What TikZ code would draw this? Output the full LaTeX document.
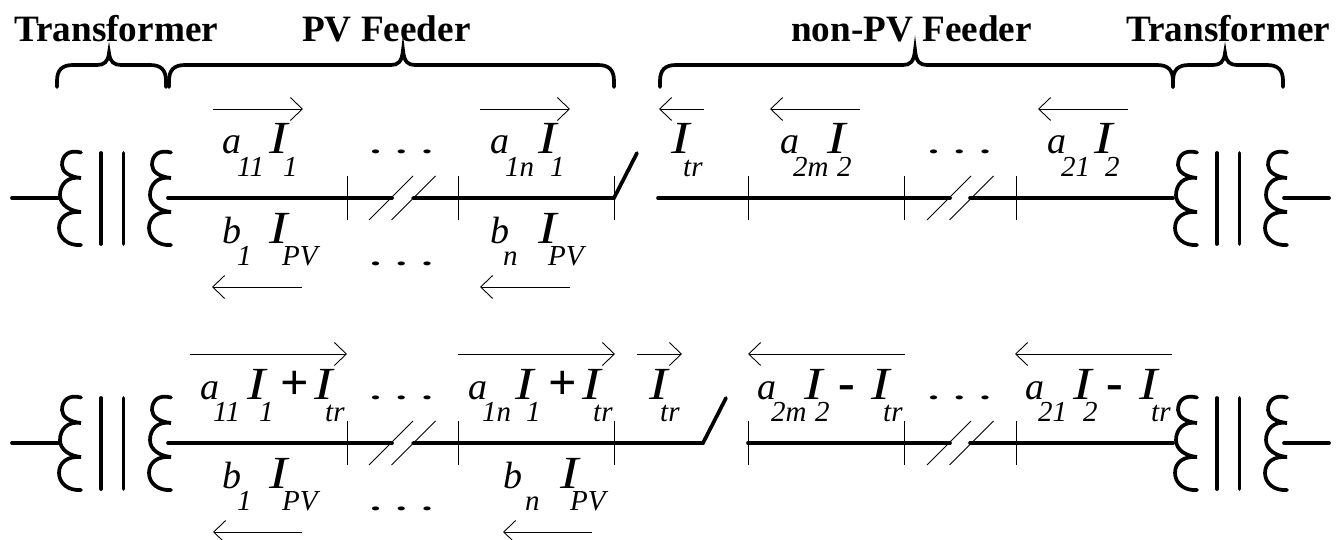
\documentclass[tikz,border=0pt]{standalone}
\usepackage{fontspec}
\setmainfont{Liberation Serif}
\usetikzlibrary{arrows.meta}
\tikzset{
  lineheavy/.style={line width=3.7pt, line cap=round},
  linethin/.style={line width=0.9pt},
  curarrow/.style={line width=0.9pt, -{Straight Barb[length=12pt, width=23pt, line width=0.9pt]}},
  title/.style={inner sep=0pt, anchor=base west, font=\fontsize{37.2}{40}\bfseries\selectfont},
  cursym/.style={inner sep=0pt, anchor=base west, xscale=1.2, font=\fontsize{46}{50}\itshape\selectfont},
  curcoef/.style={inner sep=0pt, anchor=base west, font=\fontsize{38}{42}\itshape\selectfont},
  cursub/.style={inner sep=0pt, anchor=base west, font=\fontsize{29}{32}\itshape\selectfont},
  curop/.style={inner sep=0pt, anchor=base west, font=\fontsize{50}{54}\bfseries\selectfont},
  dotsrow/.style={inner sep=0pt, anchor=base west, yscale=0.55, font=\fontsize{44}{48}\bfseries\selectfont},
}
\newcommand{\feederbrace}[4]{%
  \draw[lineheavy] (#1,87) -- (#1,81) .. controls (#1,70) and (#1+5,65) .. (#1+16,65)
    -- (#2-12,65) .. controls (#2-5,65) and (#2-1,62) .. (#2,#4)
    .. controls (#2+1,62) and (#2+5,65) .. (#2+12,65)
    -- (#3-16,65) .. controls (#3-5,65) and (#3,70) .. (#3,81) -- (#3,87);}
\begin{document}
\begin{tikzpicture}[x=1pt, y=-1pt]
  \useasboundingbox (0,0) rectangle (1337,540);
  % headings and braces
  \node[title] (tl) at (14,42) {Transformer};
  \node[title] (pv) at (302,42) {PV Feeder};
  \node[title] (np) at (791,42) {non-PV Feeder};
  \node[title] (tr) at (1126,42) {Transformer};
  \feederbrace{57}{109}{166}{53}
  \feederbrace{169}{403}{614}{50}
  \feederbrace{660}{915}{1173}{50}
  \feederbrace{1173}{1225}{1283}{53}
  % parts common to both rows
  \foreach \row in {0,245} {
    \begin{scope}[shift={(0,\row)}]
      \foreach \tx in {0,1116} {
        \begin{scope}[shift={(\tx,0)}]
          \foreach \cx in {0,90} {
            \draw[lineheavy, shift={(\cx,0)}] (81,152.5) .. controls (68,149) and (62,156) .. (62,165)
              .. controls (62,172) and (70,177) .. (81,178)
              .. controls (68,176) and (60,184) .. (60,195)
              .. controls (60,205) and (70,211) .. (81,212)
              .. controls (68,211) and (59,217) .. (59,228)
              .. controls (59,238) and (68,246) .. (81,245);
          }
          \draw[lineheavy] (101,153) -- (101,244);
          \draw[lineheavy] (123.5,153) -- (123.5,244);
        \end{scope}
      }
      \draw[lineheavy] (12,198) -- (58,198);
      \draw[lineheavy] (1284,198) -- (1329,198);
      \foreach \x in {347,458,614.5,748,904,1016}
        \draw[linethin] (\x,176) -- (\x,220);
      \foreach \x in {369,391.5,927,949.5}
        \draw[linethin] (\x,220) -- (\x+44,176);
    \end{scope}
  }
  % top row lines
  \draw[lineheavy] (168,198) -- (392,198);
  \draw[lineheavy] (413,198) -- (614,198) -- (637,153);
  \draw[lineheavy] (658,198) -- (950,198);
  \draw[lineheavy] (970,198) -- (1173,198);
  % bottom row lines
  \draw[lineheavy] (168,443) -- (392,443);
  \draw[lineheavy] (413,443) -- (703,443) -- (726,398);
  \draw[lineheavy] (748,443) -- (950,443);
  \draw[lineheavy] (970,443) -- (1173,443);
  % current arrows
  \foreach \xa/\xb/\y in {213/303/109,480/570/109,704/659/109,860/770/109,1128/1038/109,
      302/212/287,570/480/287,
      190/347/354,458/615/354,637/682/354,905/748/354,1172/1015/354,
      302/213/532,592/503/532}
    \draw[curarrow] (\xa,\y) -- (\xb,\y);
  % dots
  \foreach[count=\i] \x/\y in {370/154,928/154,370/265,370/399,928/399,370/510}
    \node[dotsrow] (dots\i) at (\x,\y) {. . .};
  % currents
  \foreach[count=\i] \x/\y in {269/154,538/154,671/154,827/154,1094/154,
      269/243,538/243,
      247/399,314/399,515/399,582/399,649/399,804/399,871/399,1073/399,1139/399,
      269/488,560/488}
    \node[cursym] (sym\i) at (\x,\y) {I};
  % coefficients
  \foreach[count=\i] \x/\y/\txt in {222/154/a,490/154/a,780/154/a,1047/154/a,
      222/243/b,490/243/b,
      200/399/a,468/399/a,757/399/a,1025/399/a,
      222/488/b,503/488/b}
    \node[curcoef] (coef\i) at (\x,\y) {\txt};
  % subscripts
  \foreach[count=\i] \x/\y/\txt in {237/176/11,283/176/1,505/176/1n,550/176/1,683/176/tr,793/176/2m,837/176/2,1061/176/21,1105/176/2,
      237/265/1,282/265/PV,503/265/n,548/265/PV,
      213/421/11,259/421/1,325/421/tr,482/421/1n,526/421/1,593/421/tr,660/421/tr,
      771/421/2m,815/421/2,883/421/tr,1038/421/21,1083/421/2,1151/421/tr,
      237/510/1,282/510/PV,525/510/n,570/510/PV}
    \node[cursub] (idx\i) at (\x,\y) {\txt};
  % plus and minus
  \foreach[count=\i] \x/\txt in {280/+,548/+,838/-,1106/-}
    \node[curop] (op\i) at (\x,399) {\txt};
\end{tikzpicture}
\end{document}
